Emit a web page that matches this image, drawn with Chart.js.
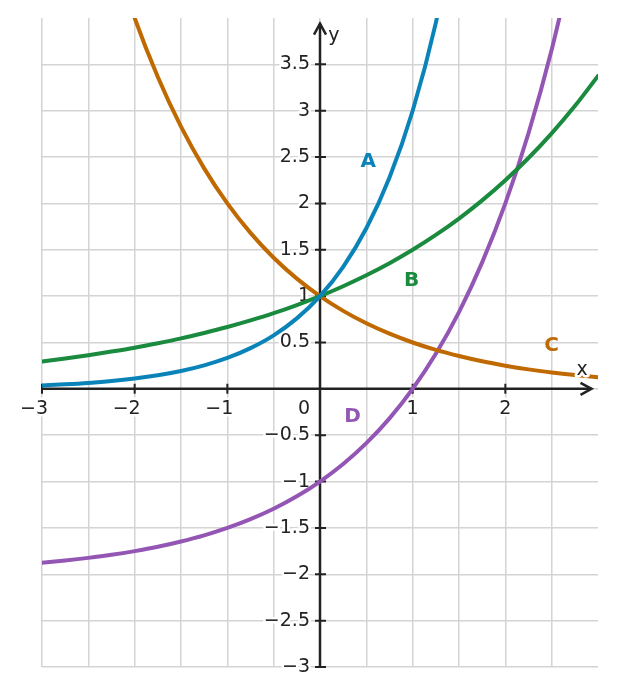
<!DOCTYPE html>
<html>
<head>
<meta charset="utf-8">
<script src="https://cdn.jsdelivr.net/npm/chart.js@4.4.1/dist/chart.umd.min.js"></script>
<style>
  html, body { margin: 0; padding: 0; background: #fff; }
  #wrap { width: 617px; height: 696px; }
</style>
</head>
<body>
<div id="wrap"><canvas id="chart"></canvas></div>
<script>
// x positions shared by all curves
const xValues = [-3, -2.75, -2.5, -2.25, -2, -1.75, -1.5, -1.25, -1, -0.75, -0.5, -0.25,
  0, 0.25, 0.5, 0.75, 1, 1.25, 1.5, 1.75, 2, 2.25, 2.5, 2.75, 3];

// values (null = off the top of the plot)
const seriesA = [0.037, 0.049, 0.064, 0.084, 0.111, 0.146, 0.192, 0.253, 0.333, 0.439, 0.577, 0.760,
  1, 1.316, 1.732, 2.280, 3, 3.948, 5.196, null, null, null, null, null, null];
const seriesB = [0.296, 0.328, 0.363, 0.402, 0.444, 0.492, 0.544, 0.603, 0.667, 0.738, 0.816, 0.904,
  1, 1.107, 1.225, 1.355, 1.5, 1.660, 1.837, 2.033, 2.25, 2.490, 2.756, 3.050, 3.375];
const seriesC = [null, null, 5.657, 4.757, 4, 3.364, 2.828, 2.378, 2, 1.682, 1.414, 1.189,
  1, 0.841, 0.707, 0.595, 0.5, 0.420, 0.354, 0.297, 0.25, 0.210, 0.177, 0.149, 0.125];
const seriesD = [-1.875, -1.851, -1.823, -1.790, -1.75, -1.703, -1.646, -1.580, -1.5, -1.405, -1.293, -1.159,
  -1, -0.811, -0.586, -0.318, 0, 0.378, 0.828, 1.364, 2, 2.757, 3.657, 4.727, null];

const seriesNames = ["A", "B", "C", "D"];
const seriesColors = ["#0a84b8", "#198a3e", "#bf6900", "#9456b4"];
// where each curve's letter sits (data coords)
const nameX = [0.52, 0.99, 2.5, 0.35];
const nameY = [2.45, 1.17, 0.46, -0.3];

const xTicks = [-3, -2, -1, 1, 2];
const yTicks = [-3, -2.5, -2, -1.5, -1, -0.5, 0.5, 1, 1.5, 2, 2.5, 3, 3.5];

const toPoints = (ys) => xValues.map((x, i) => ({ x: x, y: ys[i] }));

const AXIS = "#222222";
const FONT = "19px 'DejaVu Sans'";

function fmt(v) {
  return String(v).replace("-", "\u2212");
}

function haloText(ctx, text, x, y) {
  ctx.lineJoin = "round";
  ctx.strokeStyle = "#fff";
  ctx.lineWidth = 5;
  ctx.strokeText(text, x, y);
  ctx.fillText(text, x, y);
}

const axesPlugin = {
  id: "axes",
  beforeDatasetsDraw(chart) {
    const ctx = chart.ctx;
    const xs = chart.scales.x, ys = chart.scales.y;
    const ox = xs.getPixelForValue(0), oy = ys.getPixelForValue(0);
    const xEnd = xs.getPixelForValue(2.93), yEnd = ys.getPixelForValue(3.94);
    ctx.save();
    ctx.strokeStyle = AXIS;
    ctx.fillStyle = AXIS;
    ctx.lineWidth = 2.5;
    ctx.lineCap = "butt";
    // axis lines
    ctx.beginPath();
    ctx.moveTo(xs.getPixelForValue(-3), oy);
    ctx.lineTo(xEnd, oy);
    ctx.moveTo(ox, ys.getPixelForValue(-3));
    ctx.lineTo(ox, yEnd);
    ctx.stroke();
    // arrow heads
    ctx.beginPath();
    ctx.moveTo(xEnd - 11, oy - 6);
    ctx.lineTo(xEnd, oy);
    ctx.lineTo(xEnd - 11, oy + 6);
    ctx.moveTo(ox - 6, yEnd + 11);
    ctx.lineTo(ox, yEnd);
    ctx.lineTo(ox + 6, yEnd + 11);
    ctx.stroke();
    // tick marks
    ctx.lineWidth = 2;
    ctx.beginPath();
    xTicks.forEach((v) => {
      const px = xs.getPixelForValue(v);
      ctx.moveTo(px, oy - 5);
      ctx.lineTo(px, oy + 5);
    });
    yTicks.forEach((v) => {
      const py = ys.getPixelForValue(v);
      ctx.moveTo(ox - 5, py);
      ctx.lineTo(ox + 6, py);
    });
    ctx.stroke();
    // tick labels
    ctx.font = FONT;
    ctx.textBaseline = "middle";
    ctx.textAlign = "left";
    const minusW = ctx.measureText("\u2212").width;
    xTicks.forEach((v) => {
      const px = xs.getPixelForValue(v);
      const digits = String(Math.abs(v));
      const dw = ctx.measureText(digits).width;
      const left = px - dw / 2 - (v < 0 ? minusW : 0);
      haloText(ctx, fmt(v), left, oy + 20);
    });
    ctx.textAlign = "right";
    yTicks.forEach((v) => {
      haloText(ctx, fmt(v), ox - 10, ys.getPixelForValue(v));
    });
    haloText(ctx, "0", ox - 10, oy + 20);
    ctx.restore();
  },
  afterDatasetsDraw(chart) {
    const ctx = chart.ctx;
    const xs = chart.scales.x, ys = chart.scales.y;
    ctx.save();
    ctx.textAlign = "center";
    ctx.textBaseline = "middle";
    ctx.font = FONT;
    ctx.fillStyle = AXIS;
    haloText(ctx, "x", xs.getPixelForValue(2.83), ys.getPixelForValue(0.2));
    haloText(ctx, "y", xs.getPixelForValue(0.15), ys.getPixelForValue(3.81));
    ctx.font = "bold 20px 'DejaVu Sans'";
    seriesNames.forEach((n, i) => {
      ctx.fillStyle = seriesColors[i];
      ctx.fillText(n, xs.getPixelForValue(nameX[i]), ys.getPixelForValue(nameY[i]));
    });
    ctx.restore();
  },
};

const allSeries = [seriesA, seriesB, seriesC, seriesD];

new Chart(document.getElementById("chart"), {
  type: "line",
  data: {
    datasets: allSeries.map((s, i) => ({
      label: seriesNames[i],
      data: toPoints(s),
      borderColor: seriesColors[i],
      borderWidth: 4,
      borderJoinStyle: "round",
      borderCapStyle: "round",
      pointRadius: 0,
      fill: false,
      cubicInterpolationMode: "monotone",
      spanGaps: false,
    })),
  },
  options: {
    responsive: true,
    maintainAspectRatio: false,
    animation: false,
    layout: { padding: { left: 42, right: 19, top: 18, bottom: 29 } },
    plugins: { legend: { display: false }, tooltip: { enabled: false } },
    scales: {
      x: {
        type: "linear",
        min: -3,
        max: 3,
        ticks: { display: false, stepSize: 0.5 },
        border: { display: false },
        grid: {
          drawTicks: false,
          lineWidth: 1.5,
          color: (c) => (c.tick && c.tick.value === 3 ? "rgba(0,0,0,0)" : "#d4d4d4"),
        },
      },
      y: {
        type: "linear",
        min: -3,
        max: 4,
        ticks: { display: false, stepSize: 0.5 },
        border: { display: false },
        grid: {
          drawTicks: false,
          lineWidth: 1.5,
          color: (c) => (c.tick && c.tick.value === 4 ? "rgba(0,0,0,0)" : "#d4d4d4"),
        },
      },
    },
  },
  plugins: [axesPlugin],
});
</script>
</body>
</html>
